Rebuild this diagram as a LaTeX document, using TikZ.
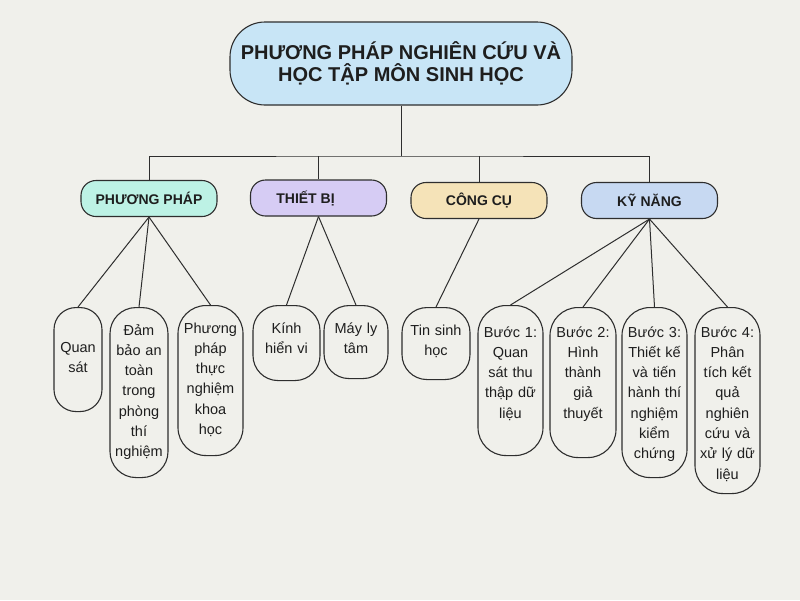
\documentclass[tikz,border=0pt]{standalone}
\usepackage{fontspec}
\setmainfont{Liberation Sans}
\definecolor{bgC}{HTML}{F0F0EB}
\definecolor{rootC}{HTML}{C8E5F6}
\definecolor{ppC}{HTML}{BDF2E5}
\definecolor{tbC}{HTML}{D6CCF4}
\definecolor{ccC}{HTML}{F5E3B8}
\definecolor{knC}{HTML}{C7D9F2}
\definecolor{lineC}{HTML}{2E2E2E}
\definecolor{txtC}{HTML}{1E1E1E}
\begin{document}
\begin{tikzpicture}[x=1pt,y=-1pt,
  box/.style={draw=lineC, line width=1.1pt},
  cat/.style={box, rectangle, rounded corners=15pt, minimum width=136pt, minimum height=36pt, inner sep=0pt, font=\fontsize{14}{16}\selectfont\bfseries, text=txtC},
  leaf/.style={box, rectangle, inner sep=0pt, anchor=north},
  leaftext/.style={text width=80pt, align=center, anchor=base, inner sep=0pt, font=\fontsize{14.5}{20.3}\selectfont, text=txtC},
  conn/.style={draw=lineC, line width=1pt}]
\fill[bgC] (0,0) rectangle (800,600);
\useasboundingbox (0,0) rectangle (800,600);

% root
\node[box, fill=rootC, rounded corners=35pt, minimum width=342pt, minimum height=83pt, inner sep=0pt, align=center, text=txtC, font=\fontsize{20}{21.5}\selectfont\bfseries] (root) at (401,63.5) {PHƯƠNG PHÁP NGHIÊN CỨU VÀ\\HỌC TẬP MÔN SINH HỌC};

% categories
\node[cat, fill=ppC] (pp) at (149,198.5) {PHƯƠNG PHÁP};
\node[cat, fill=tbC] (tb) at (318.5,198) {THIẾT BỊ\hspace*{26pt}};
\node[cat, fill=ccC] (cc) at (479,200.5) {CÔNG CỤ};
\node[cat, fill=knC] (kn) at (649.5,200.5) {KỸ NĂNG};

% leaves
\node[leaf, minimum width=48pt, minimum height=104pt, rounded corners=22pt] (qs) at (78,307) {};
\node[leaftext] (qst) at (78,352) {Quan\\sát};
\node[leaf, minimum width=58pt, minimum height=170pt, rounded corners=26pt] (db) at (139,307) {};
\node[leaftext] (dbt) at (139,335) {Đảm\\bảo an\\toàn\\trong\\phòng\\thí\\nghiệm};
\node[leaf, minimum width=65pt, minimum height=150pt, rounded corners=28pt] (tn) at (210.5,305) {};
\node[leaftext] (tnt) at (210.5,333) {Phương\\pháp\\thực\\nghiệm\\khoa\\học};
\node[leaf, minimum width=67pt, minimum height=75pt, rounded corners=25pt] (kh) at (286.5,305) {};
\node[leaftext] (kht) at (286.5,333) {Kính\\hiển vi};
\node[leaf, minimum width=64pt, minimum height=73pt, rounded corners=25pt] (ml) at (356,305) {};
\node[leaftext] (mlt) at (356,333) {Máy ly\\tâm};
\node[leaf, minimum width=68pt, minimum height=72pt, rounded corners=25pt] (ts) at (436,307) {};
\node[leaftext] (tst) at (436,335) {Tin sinh\\học};
\node[leaf, minimum width=65pt, minimum height=150pt, rounded corners=28pt] (b1) at (510.5,305) {};
\node[leaftext] (b1t) at (510.5,337) {Bước 1:\\Quan\\sát thu\\thập dữ\\liệu};
\node[leaf, minimum width=66pt, minimum height=150pt, rounded corners=28pt] (b2) at (583,307) {};
\node[leaftext] (b2t) at (583,337) {Bước 2:\\Hình\\thành\\giả\\thuyết};
\node[leaf, minimum width=65pt, minimum height=170pt, rounded corners=28pt] (b3) at (654.5,307) {};
\node[leaftext] (b3t) at (654.5,337) {Bước 3:\\Thiết kế\\và tiến\\hành thí\\nghiệm\\kiểm\\chứng};
\node[leaf, minimum width=65pt, minimum height=186pt, rounded corners=28pt] (b4) at (727.5,307) {};
\node[leaftext] (b4t) at (727.5,337) {Bước 4:\\Phân\\tích kết\\quả\\nghiên\\cứu và\\xử lý dữ\\liệu};

% connectors
\coordinate (j) at (400,156);
\draw[conn] (root.south) -- (root.south |- j);
\draw[conn] (pp.north) |- (j) -| (kn.north);
\draw[conn] (tb.north) -- (tb.north |- j);
\draw[conn] (cc.north) -- (cc.north |- j);

\draw[conn] (pp.south) -- (qs.north);
\draw[conn] (pp.south) -- (db.north);
\draw[conn] (pp.south) -- (tn.north);
\draw[conn] (tb.south) -- (kh.north);
\draw[conn] (tb.south) -- (ml.north);
\draw[conn] (cc.south) -- (ts.north);
\draw[conn] (kn.south) -- (b1.north);
\draw[conn] (kn.south) -- (b2.north);
\draw[conn] (kn.south) -- (b3.north);
\draw[conn] (kn.south) -- (b4.north);
\end{tikzpicture}
\end{document}
